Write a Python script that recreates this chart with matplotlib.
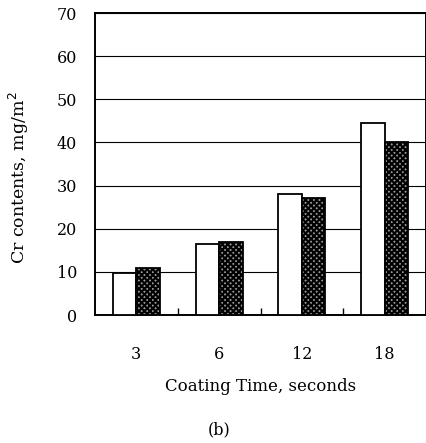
import matplotlib
matplotlib.use("Agg")
import matplotlib.pyplot as plt
import numpy as np

# Coating time categories and Cr contents (mg/m^2) for the two specimens
coating_times = ["3", "6", "12", "18"]
cr_plain = [9.8, 16.4, 28.0, 44.6]
cr_hatched = [10.9, 16.9, 27.1, 40.0]
y_ticks = [0, 10, 20, 30, 40, 50, 60, 70]

plt.rcParams["font.family"] = ["DejaVu Serif"]
plt.rcParams["hatch.linewidth"] = 1.5
plt.rcParams["hatch.color"] = "black"

W, H = 426, 443
fig = plt.figure(figsize=(W / 100, H / 100), dpi=100)
ax = fig.add_axes([95 / W, (H - 315) / H, 331 / W, 302 / H])

x = np.arange(len(coating_times))
bw = 0.285
ax.bar(x - bw / 2, cr_plain, width=bw, facecolor="white", edgecolor="black",
       linewidth=1.3, zorder=3)
ax.bar(x + bw / 2, cr_hatched, width=bw, facecolor="#9a9a9a", edgecolor="black",
       hatch="xxxxxx", linewidth=1.3, zorder=3)

ax.set_xlim(-0.5, len(coating_times) - 0.5)
ax.set_ylim(0, 70)
ax.set_yticks(y_ticks)
ax.set_yticklabels([str(v) for v in y_ticks], fontsize=11.5)
ax.set_xticks(x)
ax.set_xticklabels(coating_times, fontsize=11.5)
ax.set_xticks(np.arange(0.5, len(coating_times) - 0.5, 1.0), minor=True)

ax.tick_params(axis="y", length=0, pad=13)
ax.tick_params(axis="x", which="major", length=0, pad=22)
ax.tick_params(axis="x", which="minor", direction="in", length=5, width=1)

ax.yaxis.grid(True, color="black", linewidth=0.8)
ax.set_axisbelow(True)
for s in ax.spines.values():
    s.set_linewidth(1.4)

ax.set_xlabel("Coating Time, seconds", fontsize=12, labelpad=11)
fig.text(19 / W, 1 - 178 / H, "Cr contents, mg/m$^2$", rotation=90,
         ha="center", va="center", fontsize=12.5)
fig.text(219 / W, 1 - 430 / H, "(b)", ha="center", va="center", fontsize=11.5)

fig.savefig("out.png", dpi=100)
